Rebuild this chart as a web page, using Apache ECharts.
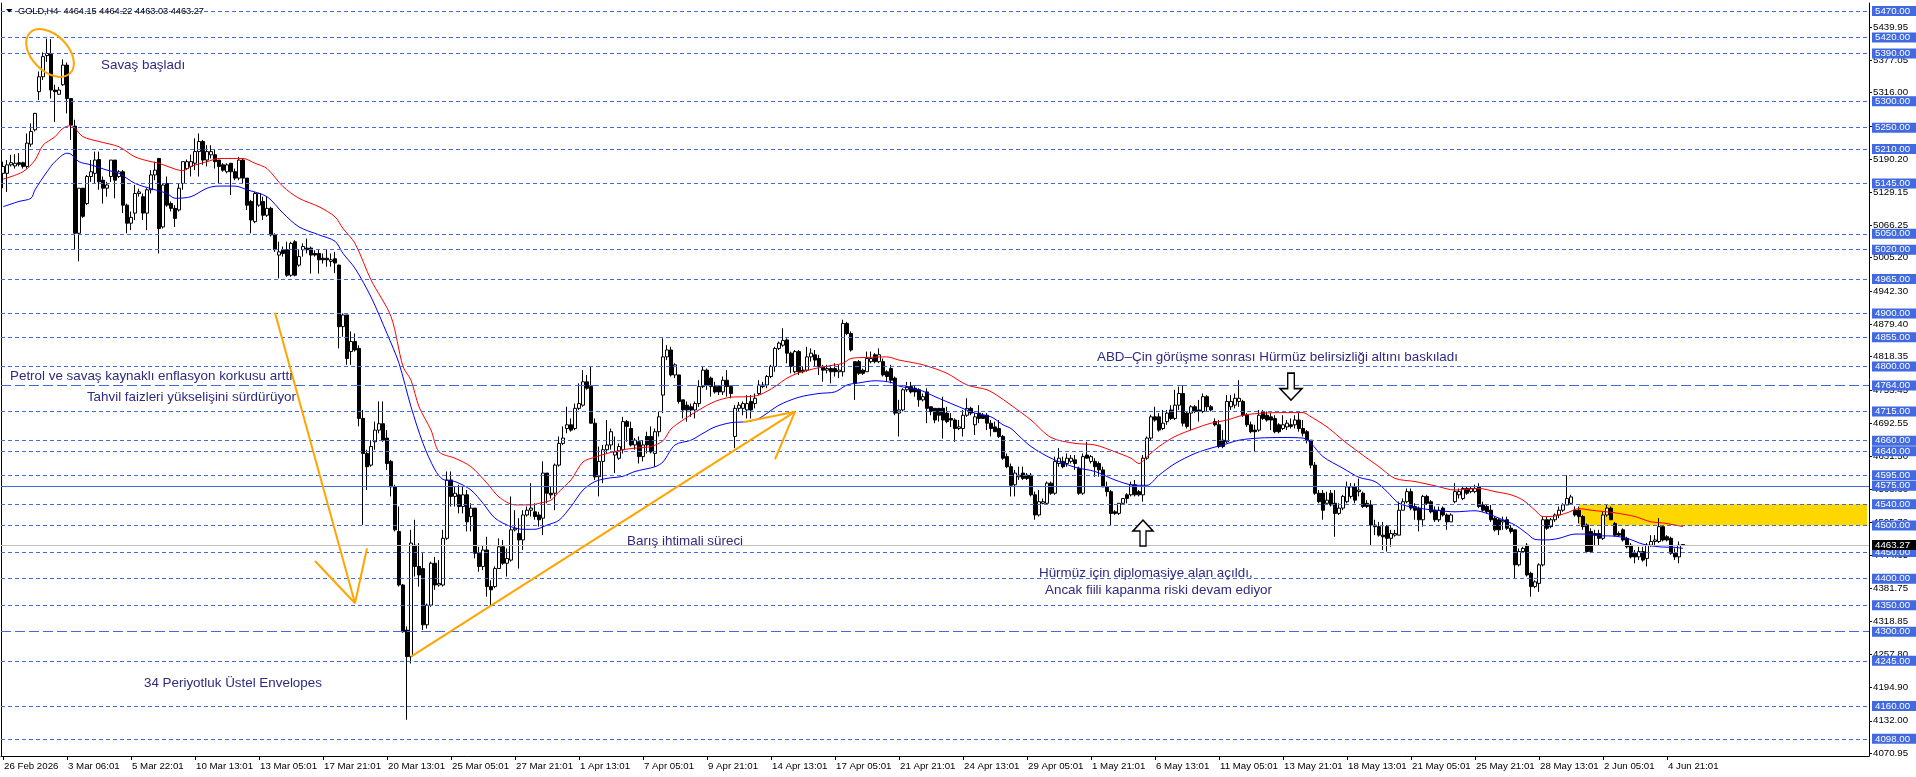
<!DOCTYPE html>
<html><head><meta charset="utf-8">
<script src="https://cdn.jsdelivr.net/npm/echarts@6/dist/echarts.min.js"></script>
<style>html,body{margin:0;padding:0;background:#fff}#c{width:1916px;height:777px}</style>
</head><body><div id="c"></div>
<script>
const timeLabels = ['26 Feb 2026','3 Mar 06:01','5 Mar 22:01','10 Mar 13:01','13 Mar 05:01','17 Mar 21:01','20 Mar 13:01','25 Mar 05:01','27 Mar 21:01','1 Apr 13:01','7 Apr 05:01','9 Apr 21:01','14 Apr 13:01','17 Apr 05:01','21 Apr 21:01','24 Apr 13:01','29 Apr 05:01','1 May 21:01','6 May 13:01','11 May 05:01','13 May 21:01','18 May 13:01','21 May 05:01','25 May 21:01','28 May 13:01','2 Jun 05:01','4 Jun 21:01'];
// [open, high, low, close]
const ohlc = [
[5164,5186,5136,5177],[5164,5189,5129,5180],[5180,5199,5177,5184],[5178,5200,5173,5183],[5184,5202,5177,5181],[5184,5186,5173,5177],[5177,5239,5173,5221],[5219,5258,5214,5243],[5246,5278,5243,5277],[5318,5356,5302,5346],
[5346,5392,5340,5384],[5386,5418,5374,5390],[5390,5417,5305,5321],[5321,5331,5261,5318],[5313,5327,5312,5321],[5331,5379,5329,5368],[5368,5373,5277,5305],[5305,5305,5227,5255],[5253,5265,5020,5051],[5051,5136,4998,5136],
[5136,5136,5080,5083],[5107,5161,5104,5158],[5158,5189,5148,5167],[5164,5205,5145,5189],[5190,5205,5133,5148],[5151,5158,5107,5136],[5136,5148,5120,5142],[5158,5189,5148,5189],[5189,5189,5117,5151],[5158,5170,5155,5167],
[5167,5170,5089,5104],[5104,5107,5051,5070],[5070,5092,5057,5081],[5089,5142,5076,5126],[5126,5135,5120,5129],[5120,5126,5076,5089],[5089,5136,5057,5133],[5133,5170,5126,5161],[5161,5186,5151,5170],[5192,5192,5013,5060],
[5063,5145,5060,5142],[5145,5158,5101,5104],[5107,5111,5092,5098],[5098,5104,5063,5079],[5095,5145,5092,5136],[5145,5186,5133,5186],[5173,5190,5170,5186],[5177,5199,5158,5186],[5183,5230,5170,5205],[5205,5239,5158,5224],
[5224,5227,5180,5189],[5189,5217,5177,5205],[5199,5217,5192,5205],[5199,5208,5173,5186],[5189,5189,5145,5177],[5180,5183,5167,5170],[5167,5183,5164,5180],[5183,5183,5123,5167],[5167,5173,5151,5155],[5155,5195,5151,5189],
[5189,5192,5145,5155],[5155,5155,5095,5104],[5111,5114,5051,5076],[5073,5129,5070,5126],[5104,5127,5101,5126],[5111,5120,5076,5085],[5085,5120,5082,5098],[5098,5101,5045,5048],[5048,5051,5016,5020],[5010,5035,4966,5016],
[5020,5026,5007,5013],[5020,5035,4969,4972],[4972,5035,4969,5032],[5035,5038,4970,4972],[4991,5020,4988,5007],[5020,5032,5007,5026],[5023,5041,5013,5020],[5023,5026,4975,5010],[5013,5019,5007,5010],[5013,5020,4975,5001],
[5004,5013,4994,5001],[5004,5020,4988,5001],[4998,5013,4988,5001],[5003,5016,4976,4995],[4991,4992,4834,4875],[4875,4900,4856,4897],[4897,4897,4803,4815],[4828,4866,4803,4847],[4847,4862,4828,4831],[4834,4840,4687,4702],
[4702,4718,4501,4636],[4636,4643,4567,4611],[4614,4661,4611,4649],[4658,4696,4643,4680],[4680,4734,4674,4692],[4692,4734,4658,4661],[4665,4680,4605,4617],[4621,4624,4555,4573],[4573,4577,4489,4492],[4489,4536,4385,4388],
[4388,4390,4298,4300],[4303,4310,4134,4253],[4253,4492,4240,4467],[4463,4511,4404,4423],[4423,4467,4385,4407],[4419,4448,4303,4313],[4313,4353,4306,4350],[4350,4432,4347,4429],[4429,4441,4379,4388],[4388,4435,4385,4391],
[4388,4492,4385,4476],[4476,4602,4473,4586],[4586,4602,4536,4555],[4555,4573,4536,4561],[4558,4577,4523,4536],[4536,4573,4523,4558],[4558,4567,4489,4507],[4517,4542,4489,4533],[4533,4533,4438,4448],[4448,4460,4413,4423],
[4423,4463,4416,4454],[4454,4479,4366,4385],[4385,4397,4350,4379],[4385,4423,4382,4419],[4419,4476,4419,4460],[4460,4473,4426,4429],[4429,4457,4404,4438],[4435,4555,4432,4492],[4492,4529,4489,4495],[4485,4514,4419,4473],
[4473,4529,4454,4520],[4520,4536,4517,4529],[4529,4580,4517,4533],[4526,4542,4511,4517],[4520,4526,4498,4511],[4514,4621,4482,4599],[4599,4599,4542,4561],[4561,4573,4551,4558],[4561,4617,4529,4614],[4614,4668,4611,4655],
[4655,4687,4652,4665],[4683,4724,4674,4690],[4690,4702,4677,4680],[4683,4730,4680,4721],[4721,4768,4718,4730],[4727,4793,4724,4771],[4771,4784,4756,4759],[4762,4800,4693,4693],[4693,4702,4586,4592],[4592,4649,4555,4621],
[4621,4652,4580,4643],[4643,4699,4636,4652],[4652,4683,4643,4677],[4633,4668,4599,4639],[4627,4655,4624,4649],[4643,4705,4636,4696],[4696,4699,4658,4687],[4683,4696,4649,4652],[4652,4665,4643,4661],[4658,4668,4617,4630],
[4630,4661,4621,4652],[4668,4677,4636,4652],[4668,4687,4636,4639],[4636,4683,4611,4677],[4677,4715,4668,4705],[4746,4853,4712,4818],[4818,4840,4812,4831],[4831,4837,4781,4784],[4784,4806,4778,4803],[4784,4784,4730,4734],
[4737,4737,4702,4718],[4727,4734,4696,4718],[4724,4730,4705,4718],[4718,4734,4702,4730],[4730,4774,4724,4762],[4762,4800,4759,4793],[4793,4796,4756,4765],[4778,4781,4743,4762],[4762,4771,4749,4752],[4762,4765,4746,4752],
[4752,4781,4746,4774],[4774,4793,4743,4762],[4762,4765,4740,4749],[4668,4727,4646,4721],[4721,4733,4715,4727],[4721,4734,4708,4730],[4718,4746,4702,4730],[4734,4746,4702,4718],[4730,4749,4721,4740],[4749,4774,4746,4765],
[4762,4771,4759,4765],[4765,4784,4759,4781],[4781,4803,4778,4800],[4800,4837,4790,4834],[4834,4847,4831,4844],[4840,4872,4837,4849],[4850,4853,4806,4825],[4825,4828,4787,4800],[4790,4831,4787,4828],[4828,4831,4784,4790],
[4793,4800,4787,4790],[4793,4837,4790,4818],[4818,4834,4809,4825],[4822,4831,4800,4812],[4815,4822,4784,4800],[4800,4803,4771,4793],[4793,4803,4787,4796],[4796,4803,4768,4790],[4796,4806,4781,4790],[4790,4803,4778,4793],
[4790,4888,4781,4881],[4881,4884,4859,4862],[4862,4866,4828,4831],[4809,4809,4737,4768],[4809,4812,4784,4787],[4793,4796,4784,4787],[4790,4828,4790,4815],[4809,4828,4806,4815],[4822,4825,4806,4809],[4809,4834,4806,4822],
[4809,4815,4781,4784],[4790,4793,4771,4781],[4796,4803,4768,4774],[4778,4781,4708,4712],[4712,4737,4668,4718],[4718,4759,4715,4756],[4756,4771,4752,4762],[4762,4771,4749,4752],[4759,4765,4743,4752],[4756,4759,4724,4737],
[4737,4749,4734,4743],[4752,4759,4693,4721],[4724,4724,4708,4715],[4721,4721,4693,4699],[4721,4721,4696,4708],[4721,4743,4664,4699],[4712,4724,4693,4696],[4702,4712,4686,4699],[4699,4702,4658,4683],[4683,4699,4680,4686],
[4683,4718,4668,4708],[4708,4740,4705,4721],[4721,4724,4708,4712],[4690,4712,4671,4705],[4712,4727,4693,4702],[4708,4712,4702,4702],[4708,4712,4680,4693],[4693,4699,4668,4683],[4686,4696,4677,4677],[4683,4699,4665,4668],
[4668,4671,4624,4627],[4630,4636,4608,4611],[4611,4617,4555,4576],[4577,4605,4555,4599],[4592,4611,4586,4595],[4599,4611,4586,4589],[4595,4599,4586,4589],[4595,4599,4555,4558],[4558,4564,4511,4520],[4520,4567,4517,4545],
[4542,4551,4540,4545],[4542,4583,4539,4580],[4580,4583,4558,4561],[4561,4630,4558,4621],[4617,4646,4611,4627],[4621,4630,4608,4611],[4617,4636,4611,4627],[4621,4633,4617,4627],[4624,4633,4605,4617],[4608,4611,4558,4561],
[4561,4636,4558,4630],[4633,4658,4627,4627],[4621,4633,4617,4630],[4621,4627,4592,4611],[4617,4621,4592,4605],[4605,4611,4573,4573],[4573,4583,4555,4564],[4564,4567,4501,4523],[4526,4529,4520,4523],[4523,4542,4520,4542],
[4542,4551,4539,4551],[4558,4561,4542,4551],[4558,4583,4555,4577],[4577,4586,4555,4558],[4564,4567,4555,4558],[4558,4633,4545,4627],[4627,4668,4624,4665],[4665,4709,4661,4705],[4705,4724,4696,4699],[4705,4712,4677,4680],
[4683,4718,4680,4693],[4696,4718,4690,4712],[4718,4727,4699,4702],[4702,4756,4699,4727],[4727,4762,4718,4749],[4749,4765,4687,4693],[4712,4715,4683,4687],[4712,4727,4680,4724],[4724,4727,4712,4715],[4718,4737,4696,4715],
[4715,4749,4712,4743],[4743,4746,4715,4724],[4724,4727,4715,4718],[4696,4702,4687,4690],[4690,4699,4646,4649],[4661,4680,4646,4649],[4658,4746,4655,4734],[4724,4746,4718,4734],[4727,4749,4721,4740],[4734,4774,4724,4740],
[4734,4737,4705,4708],[4708,4712,4686,4690],[4690,4696,4674,4677],[4680,4690,4639,4677],[4680,4718,4677,4708],[4715,4718,4699,4702],[4708,4715,4696,4699],[4705,4712,4680,4699],[4702,4708,4674,4677],[4690,4693,4674,4677],
[4683,4708,4680,4690],[4686,4699,4680,4693],[4690,4702,4683,4687],[4690,4708,4683,4699],[4699,4712,4677,4683],[4683,4699,4668,4674],[4677,4680,4655,4661],[4661,4661,4608,4614],[4614,4620,4558,4561],[4561,4567,4542,4545],
[4561,4567,4511,4529],[4542,4564,4539,4548],[4561,4567,4536,4539],[4542,4567,4479,4523],[4523,4542,4520,4533],[4533,4558,4529,4555],[4545,4583,4542,4573],[4555,4580,4551,4573],[4573,4580,4542,4548],[4564,4589,4555,4567],
[4561,4564,4533,4536],[4542,4548,4533,4536],[4539,4548,4463,4501],[4501,4511,4482,4498],[4498,4507,4479,4482],[4482,4507,4454,4479],[4498,4501,4451,4476],[4476,4492,4460,4485],[4482,4492,4479,4485],[4482,4545,4482,4529],
[4529,4551,4529,4545],[4545,4570,4542,4564],[4564,4570,4529,4533],[4536,4542,4511,4529],[4533,4536,4489,4511],[4511,4558,4498,4555],[4555,4558,4539,4542],[4545,4548,4523,4526],[4529,4536,4507,4511],[4511,4536,4507,4529],
[4533,4536,4517,4520],[4520,4523,4492,4507],[4507,4523,4507,4520],[4545,4580,4542,4564],[4558,4570,4551,4564],[4551,4573,4548,4570],[4570,4573,4558,4561],[4564,4573,4561,4570],[4564,4577,4561,4570],[4573,4580,4533,4536],
[4539,4545,4526,4529],[4536,4539,4523,4526],[4529,4539,4507,4511],[4514,4517,4489,4492],[4511,4514,4482,4492],[4507,4517,4492,4510],[4511,4517,4492,4495],[4495,4501,4485,4489],[4492,4492,4401,4426],[4426,4457,4423,4451],
[4451,4460,4448,4457],[4463,4467,4404,4407],[4410,4413,4366,4385],[4385,4397,4382,4394],[4391,4429,4375,4426],[4426,4517,4423,4511],[4511,4517,4492,4495],[4498,4514,4495,4511],[4511,4523,4507,4520],[4520,4536,4514,4529],
[4529,4542,4526,4539],[4539,4595,4539,4551],[4542,4558,4539,4554],[4529,4536,4517,4520],[4529,4536,4504,4517],[4517,4520,4492,4498],[4501,4504,4448,4451],[4489,4495,4448,4451],[4485,4492,4463,4482],[4485,4492,4463,4476],
[4476,4526,4473,4520],[4520,4539,4517,4533],[4533,4536,4511,4511],[4504,4507,4479,4482],[4485,4489,4479,4482],[4492,4495,4470,4473],[4476,4479,4457,4460],[4463,4467,4438,4441],[4448,4454,4429,4441],[4441,4460,4435,4451],
[4451,4460,4432,4435],[4438,4467,4423,4463],[4463,4482,4460,4470],[4470,4482,4463,4473],[4470,4514,4467,4498],[4498,4501,4470,4473],[4479,4482,4470,4473],[4476,4479,4445,4448],[4448,4457,4435,4441],[4441,4470,4429,4463],
[4464.15,4464.22,4463.03,4463.27]
];
// 34-period exponential envelopes: [bar index, price]
const upperEnv = [[0,5153],[5,5167],[8,5189],[10,5217],[13,5233],[15,5249],[17,5254],[18,5249],[20,5233],[24,5224],[29,5214],[33,5195],[37,5186],[39,5183],[43,5172],[45,5169],[47,5177],[51,5186],[54,5192],[60,5192],[63,5183],[66,5173],[70,5139],[74,5117],[79,5101],[83,5082],[85,5060],[88,5032],[92,4963],[97,4894],[100,4800],[102,4774],[104,4724],[107,4680],[109,4639],[113,4627],[117,4611],[121,4580],[124,4554],[128,4539],[132,4539],[134,4542],[137,4548],[139,4564],[142,4586],[145,4620],[148,4629],[151,4636],[155,4643],[158,4646],[162,4649],[165,4660],[167,4682],[170,4699],[174,4718],[178,4734],[182,4742],[186,4743],[189,4746],[193,4762],[196,4778],[199,4788],[203,4796],[208,4803],[210,4806],[212,4815],[216,4817],[221,4818],[224,4812],[230,4803],[236,4787],[241,4765],[246,4756],[249,4743],[252,4727],[257,4699],[262,4666],[268,4655],[273,4652],[278,4639],[282,4627],[284,4617],[286,4630],[289,4649],[293,4668],[298,4683],[302,4693],[306,4699],[310,4708],[315,4712],[320,4713],[325,4713],[327,4705],[331,4686],[335,4661],[339,4638],[344,4611],[348,4589],[353,4583],[358,4575],[363,4567],[369,4570],[373,4564],[377,4558],[380,4548],[383,4529],[385,4517],[388,4518],[391,4524],[394,4532],[397,4529],[403,4524],[408,4517],[412,4507],[415,4505],[418,4501],[420,4498]];
const lowerEnv = [[0,5101],[4,5111],[7,5117],[8,5133],[11,5167],[13,5186],[16,5202],[17,5200],[19,5186],[22,5180],[26,5170],[29,5164],[33,5145],[38,5133],[41,5126],[43,5117],[47,5120],[51,5136],[54,5140],[58,5140],[61,5133],[66,5120],[70,5089],[74,5063],[79,5048],[83,5036],[85,5013],[88,4985],[92,4931],[96,4862],[99,4806],[102,4724],[105,4655],[108,4605],[110,4587],[113,4583],[117,4567],[120,4542],[123,4514],[127,4498],[130,4493],[133,4493],[136,4501],[139,4510],[142,4536],[145,4567],[148,4583],[151,4589],[155,4593],[158,4602],[163,4611],[165,4620],[168,4652],[172,4661],[175,4674],[178,4686],[182,4694],[186,4696],[189,4702],[194,4727],[199,4742],[204,4749],[208,4752],[211,4765],[214,4769],[218,4773],[222,4770],[224,4763],[229,4756],[233,4743],[238,4727],[243,4712],[247,4705],[250,4690],[252,4683],[254,4669],[257,4649],[262,4627],[268,4610],[273,4602],[278,4586],[283,4576],[286,4576],[289,4595],[293,4617],[298,4636],[302,4646],[305,4652],[309,4661],[314,4665],[320,4666],[325,4665],[327,4655],[330,4630],[335,4608],[339,4591],[343,4583],[346,4564],[349,4542],[353,4534],[358,4529],[363,4526],[368,4528],[371,4523],[374,4514],[378,4501],[381,4485],[383,4474],[386,4473],[389,4476],[393,4484],[396,4484],[399,4481],[403,4480],[406,4476],[410,4465],[414,4460],[418,4459],[420,4457]];
const dashedLevels = [5470,5420,5390,5300,5250,5210,5145,5050,5020,4965,4900,4855,4800,4715,4660,4640,4595,4540,4500,4450,4400,4350,4245,4160,4098];
const longDashLevels = [4764,4300];
const solidLevels = [4575];
const lastPrice = 4463.27;
const axisTickValues = [4070.95,4132.00,4194.90,4257.80,4318.85,4381.75,4444.65,4505.70,4568.60,4631.50,4692.55,4755.45,4818.35,4879.40,4942.30,5005.20,5066.25,5129.15,5190.20,5253.10,5316.00,5377.05,5439.95];
const zoneTop = 4540, zoneBottom = 4500, zoneStartBar = 394;
const orangeSegments = [
  [[68.1,4901],[88,4353.5]],
  [[78,4433.3],[88,4353.5]],
  [[88,4353.5],[91.1,4457.2]],
  [[102.2,4252.9],[198,4714.7]],
  [[185.1,4694.7],[198,4714.7]],
  [[193,4625],[198,4714.7]]
];
const upArrowAt = [285, 4486];
const downArrowAt = [322, 4762];
const headerText = 'GOLD,H4  4464.15 4464.22 4463.03 4463.27';
const notes = {
  war: 'Savaş başladı',
  infl1: 'Petrol ve savaş kaynaklı enflasyon korkusu arttı',
  infl2: 'Tahvil faizleri yükselişini sürdürüyor',
  abd: 'ABD–Çin görüşme sonrası Hürmüz belirsizliği altını baskıladı',
  peace: 'Barış ihtimali süreci',
  dip1: 'Hürmüz için diplomasiye alan açıldı,',
  dip2: 'Ancak fiili kapanma riski devam ediyor',
  env: '34 Periyotluk Üstel Envelopes'
};

const NCAT = 467;
const categories = Array.from({length: NCAT}, (_, i) => (i % 16 === 0 && timeLabels[i / 16]) ? timeLabels[i / 16] : '');
const candleData = ohlc.map(r => [r[0], r[3], r[2], r[1]]);
const isTick = (idx) => idx % 16 === 0 && idx / 16 < timeLabels.length;

const YMIN = 4065.68, YMAX = 5485.08;
const FONT = '"Liberation Sans", Arial, sans-serif';
const AXFS = 9.7;
const BLUE = '#4169E1';
const lblStyle = (bg) => ({
  show: true, position: 'end', distance: 3,
  formatter: p => Number(p.value).toFixed(2),
  color: '#fff', backgroundColor: bg, padding: [0, 20, 0, 3],
  fontSize: AXFS, lineHeight: 10, fontFamily: FONT
});
const levelLines = [];
dashedLevels.forEach(v => levelLines.push({yAxis: v, lineStyle: {type: [4, 3], color: BLUE, width: 1}}));
longDashLevels.forEach(v => levelLines.push({yAxis: v, lineStyle: {type: [10, 4], color: BLUE, width: 1}}));
solidLevels.forEach(v => levelLines.push({yAxis: v, lineStyle: {type: 'solid', color: BLUE, width: 1}}));
levelLines.push({yAxis: lastPrice, lineStyle: {type: 'solid', color: '#C0C0C0', width: 1}, label: lblStyle('#000')});

const chart = echarts.init(document.getElementById('c'), null, {renderer: 'canvas'});
const series = [
  {
    type: 'line', name: 'levels', data: [], z: 1, silent: true,
    markLine: {silent: true, symbol: ['none', 'none'], animation: false, precision: 2,
      label: lblStyle(BLUE), data: levelLines},
    markArea: {silent: true, animation: false, itemStyle: {color: '#FFD700'},
      data: [[{xAxis: zoneStartBar, yAxis: zoneTop}, {xAxis: NCAT - 1, yAxis: zoneBottom}]]}
  },
  {
    type: 'candlestick', name: 'GOLD', data: candleData, z: 3, barWidth: 3,
    itemStyle: {color: '#ffffff', color0: '#000000', borderColor: '#000000', borderColor0: '#000000', borderWidth: 1},
    animation: false
  },
  {type: 'line', name: 'upper', data: upperEnv, z: 4, symbol: 'none', smooth: 0.3, lineStyle: {color: '#FF0000', width: 1}, animation: false},
  {type: 'line', name: 'lower', data: lowerEnv, z: 4, symbol: 'none', smooth: 0.3, lineStyle: {color: '#0000FF', width: 1}, animation: false}
];
orangeSegments.forEach(seg => series.push({type: 'line', data: seg, z: 5, symbol: 'none', lineStyle: {color: '#FFA500', width: 2}, animation: false}));
series.push({
  type: 'line', data: [], z: 6,
  markPoint: {
    animation: false,
    label: {show: false},
    itemStyle: {color: '#ffffff', borderColor: '#000000', borderWidth: 1.5},
    data: [
      {coord: upArrowAt, symbol: 'path://M7,26L7,11L0,11L10,0L20,11L13,11L13,26Z', symbolSize: [20, 26]},
      {coord: downArrowAt, symbol: 'path://M7,0L7,15L0,15L10,26L20,15L13,15L13,0Z', symbolSize: [22, 27]}
    ]
  }
});

const txt = (x, y, text, opts = {}) => ({
  type: 'text', x, y, z: 20, silent: true,
  style: Object.assign({text, fill: '#302a80', font: '13.4px ' + FONT, textAlign: 'left', textVerticalAlign: 'middle'}, opts)
});

chart.setOption({
  animation: false,
  backgroundColor: '#ffffff',
  grid: {left: 1, right: 47, top: 3, bottom: 21, containLabel: false},
  xAxis: {
    type: 'category', data: categories, boundaryGap: true,
    axisLine: {show: true, lineStyle: {color: '#000', width: 1}},
    axisTick: {show: true, alignWithLabel: true, interval: isTick, length: 4, lineStyle: {color: '#000'}},
    axisLabel: {interval: isTick, align: 'left', color: '#000', fontSize: AXFS, fontFamily: FONT, margin: 5, padding: [0, 0, 0, 1]},
    splitLine: {show: false}
  },
  yAxis: [
    {
      type: 'value', position: 'right', min: YMIN, max: YMAX, scale: true,
      splitLine: {show: false},
      axisLine: {show: true, lineStyle: {color: '#000', width: 1}},
      axisTick: {show: true, length: 3, lineStyle: {color: '#000'}, customValues: axisTickValues},
      axisLabel: {color: '#000', fontSize: AXFS, fontFamily: FONT, margin: 4, customValues: axisTickValues, formatter: v => Number(v).toFixed(2)}
    },
    {
      type: 'value', position: 'left', min: YMIN, max: YMAX,
      splitLine: {show: false}, axisTick: {show: false}, axisLabel: {show: false},
      axisLine: {show: true, lineStyle: {color: '#000', width: 1}}
    }
  ],
  series,
  graphic: [
    {type: 'polygon', z: 20, silent: true, shape: {points: [[6, 9], [12.5, 9], [9.25, 12.5]]}, style: {fill: '#000'}},
    txt(18, 11, headerText, {fill: '#000', font: '9.2px ' + FONT}),
    {type: 'ellipse', x: 50, y: 53, rotation: -Math.PI / 4, z: 20, silent: true,
      shape: {cx: 0, cy: 0, rx: 28.5, ry: 18}, style: {fill: 'none', stroke: '#FFA500', lineWidth: 2}},
    txt(101, 65, notes.war),
    txt(10, 376, notes.infl1),
    txt(296, 397, notes.infl2, {textAlign: 'right'}),
    txt(1097, 357, notes.abd),
    txt(627, 541, notes.peace),
    txt(1039, 573, notes.dip1),
    txt(1045, 590, notes.dip2),
    txt(144, 683, notes.env)
  ]
});
</script>
</body></html>
